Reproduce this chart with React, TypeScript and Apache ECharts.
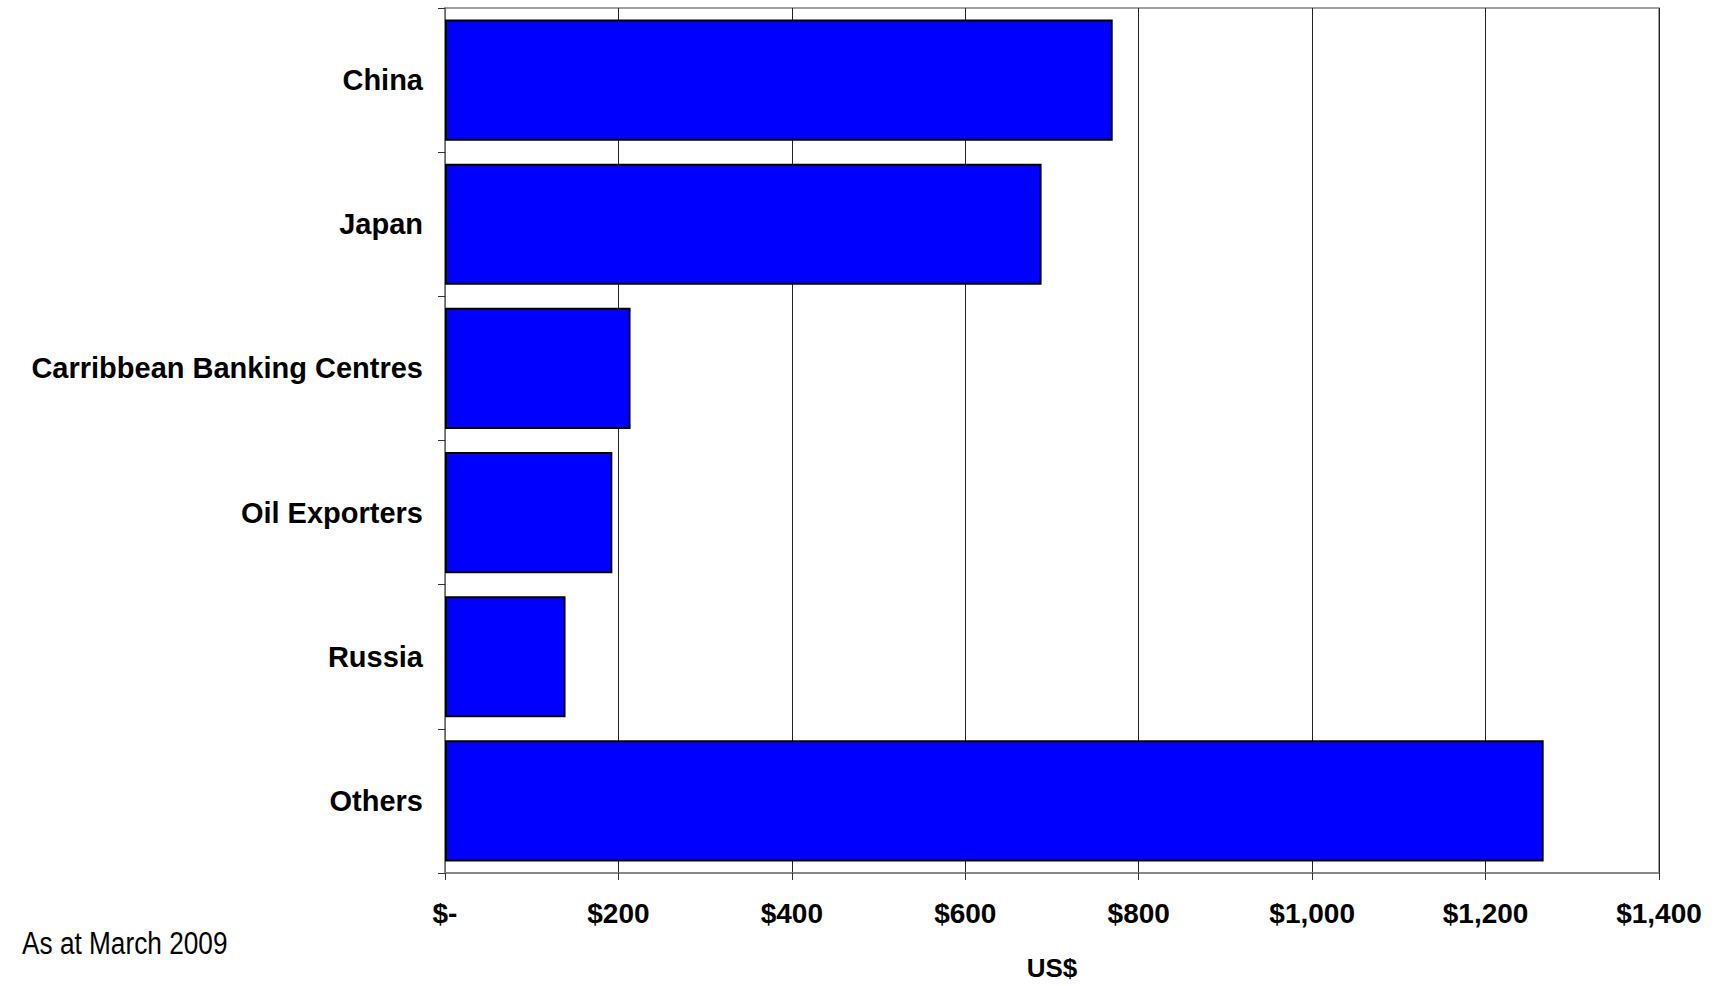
import React, { useEffect, useRef } from "react";
import * as echarts from "echarts";

const categories = ["China", "Japan", "Carribbean Banking Centres", "Oil Exporters", "Russia", "Others"];
const holdings = [770, 688, 214, 193, 139, 1267];
const xMin = 0;
const xMax = 1400;
const xStep = 200;
const footnote = "As at March 2009";
const xAxisName = "US$";

function fmt(v: number): string {
  if (v === 0) return "$-";
  return "$" + v.toLocaleString("en-US");
}

export default function App() {
  const ref = useRef<HTMLDivElement>(null);
  useEffect(() => {
    if (!ref.current) return;
    const chart = echarts.init(ref.current, undefined, { renderer: "svg" });
    const font = "'Liberation Sans', Arial, sans-serif";
    chart.setOption({
      animation: false,
      backgroundColor: "#ffffff",
      grid: {
        left: 445,
        top: 8,
        right: 56,
        bottom: 96,
        show: true,
        borderColor: "#808080",
        borderWidth: 1.5,
        containLabel: false,
      },
      xAxis: {
        type: "value",
        min: xMin,
        max: xMax,
        interval: xStep,
        name: xAxisName,
        nameLocation: "middle",
        nameGap: 82,
        nameTextStyle: { fontFamily: font, fontWeight: "bold", fontSize: 26, color: "#000" },
        axisLine: { show: true, lineStyle: { color: "#808080", width: 1.5 } },
        axisTick: { show: true, length: 7, lineStyle: { color: "#333", width: 1 } },
        splitLine: { show: true, lineStyle: { color: "#222", width: 1 } },
        axisLabel: {
          formatter: (v: number) => fmt(v),
          fontFamily: font,
          fontWeight: "bold",
          fontSize: 28,
          color: "#000",
          margin: 26,
        },
      },
      yAxis: {
        type: "category",
        data: categories,
        inverse: true,
        axisLine: { show: true, lineStyle: { color: "#808080", width: 1.5 } },
        axisTick: { show: true, length: 7, lineStyle: { color: "#333", width: 1 } },
        splitLine: { show: false },
        axisLabel: {
          fontFamily: font,
          fontWeight: "bold",
          fontSize: 29,
          color: "#000",
          margin: 22,
        },
      },
      series: [
        {
          type: "bar",
          data: holdings,
          barCategoryGap: "16%",
          itemStyle: { color: "#0000FF", borderColor: "#000000", borderWidth: 2 },
        },
      ],
      graphic: [
        {
          type: "text",
          x: 22,
          y: 943,
          scaleX: 0.846,
          style: {
            text: footnote,
            fontFamily: font,
            fontSize: 31,
            fill: "#000",
            verticalAlign: "middle",
            align: "left",
          },
        },
      ],
    });
    return () => chart.dispose();
  }, []);
  return (
    <div
      ref={ref}
      style={{ position: "fixed", left: 0, top: 0, width: 1715, height: 986, background: "#fff" }}
    />
  );
}
